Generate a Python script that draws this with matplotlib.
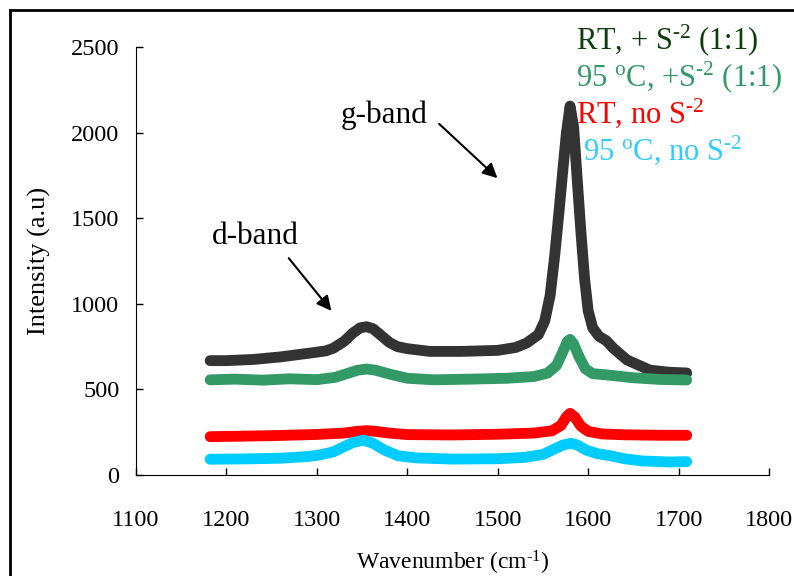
import numpy as np
import matplotlib
matplotlib.use("Agg")
import matplotlib.pyplot as plt
from matplotlib.lines import Line2D

plt.rcParams["font.family"] = ["Liberation Serif", "DejaVu Serif"]
plt.rcParams["mathtext.fontset"] = "custom"
plt.rcParams["mathtext.rm"] = "Liberation Serif"
plt.rcParams["mathtext.it"] = "Liberation Serif:italic"

# RT, + S-2 (1:1)
x_rt_s = [1182, 1200, 1230, 1260, 1292, 1310, 1318, 1330, 1340, 1348, 1355, 1362, 1370, 1380,
          1389, 1400, 1425, 1460, 1500, 1520, 1532, 1545, 1552, 1558, 1563, 1568, 1572, 1576,
          1580, 1584, 1588, 1592, 1596, 1600, 1605, 1612, 1620, 1628, 1643, 1668, 1690, 1709]
y_rt_s = [668, 668, 675, 690, 712, 725, 740, 780, 830, 860, 866, 855, 820, 775,
          750, 738, 722, 722, 728, 745, 771, 820, 900, 1050, 1280, 1550, 1780, 2000,
          2155, 2030, 1720, 1420, 1150, 960, 860, 810, 785, 740, 672, 613, 600, 596]

# 95 C, + S-2 (1:1)
x_95_s = [1182, 1210, 1240, 1270, 1300, 1320, 1335, 1345, 1355, 1365, 1380, 1400, 1430, 1470,
          1510, 1540, 1555, 1565, 1572, 1577, 1580, 1584, 1590, 1597, 1605, 1620, 1650, 1680, 1709]
y_95_s = [556, 560, 554, 562, 557, 570, 595, 612, 619, 612, 590, 565, 556, 560,
          565, 575, 595, 640, 720, 780, 792, 765, 690, 620, 592, 585, 568, 558, 555]

# RT, no S-2
x_rt = [1182, 1220, 1260, 1300, 1330, 1345, 1355, 1365, 1380, 1400, 1450, 1500, 1540, 1560,
        1570, 1576, 1580, 1585, 1592, 1600, 1615, 1640, 1680, 1709]
y_rt = [224, 227, 231, 237, 245, 255, 259, 255, 245, 236, 234, 238, 245, 258,
        290, 340, 360, 340, 285, 255, 240, 235, 232, 232]

# 95 C, no S-2
x_95 = [1182, 1220, 1260, 1290, 1303, 1318, 1330, 1340, 1352, 1362, 1375, 1390, 1410, 1450,
        1500, 1530, 1550, 1562, 1572, 1581, 1588, 1598, 1610, 1625, 1640, 1660, 1690, 1709]
y_95 = [92, 94, 98, 108, 117, 135, 165, 190, 204, 185, 145, 112, 100, 93,
        95, 103, 120, 150, 175, 185, 175, 145, 125, 112, 95, 82, 76, 78]

series = [
    (x_rt_s, y_rt_s, "#333333"),
    (x_95_s, y_95_s, "#339966"),
    (x_rt, y_rt, "#ff0000"),
    (x_95, y_95, "#00ccff"),
]
hy = "\u2010"
labels = [r"RT, + S$^{\mathrm{" + hy + r"2}}$ (1:1)",
          r"95 $^{\mathrm{o}}$C, +S$^{\mathrm{" + hy + r"2}}$ (1:1)",
          r"RT, no S$^{\mathrm{" + hy + r"2}}$",
          r"95 $^{\mathrm{o}}$C, no S$^{\mathrm{" + hy + r"2}}$"]
label_colors = ["#0d3d0d", "#339966", "#ff0000", "#33ccff"]

fig = plt.figure(figsize=(7.94, 5.76), dpi=100)
ax = fig.add_axes([136 / 794, 1 - 475 / 576, (769 - 136) / 794, (475 - 47) / 576])

for xs, ys, c in series:
    ax.plot(xs, ys, color=c, lw=7.8, solid_capstyle="round", solid_joinstyle="round")

ax.set_xlim(1100, 1800)
ax.set_ylim(0, 2500)
ax.set_xticks(np.arange(1100, 1801, 100))
ax.set_yticks(np.arange(0, 2501, 500))
ax.spines["top"].set_visible(False)
ax.spines["right"].set_visible(False)
ax.tick_params(direction="in", length=5, width=1, labelsize=17.5)
ax.tick_params(axis="x", pad=25)
ax.tick_params(axis="y", pad=12)
ax.set_xlabel("Wavenumber (cm$^{\\mathrm{" + hy + "1}}$)", fontsize=17, labelpad=13)
ax.set_ylabel("Intensity (a.u)", fontsize=19, labelpad=14)

ax.annotate("", xy=(1502, 1723), xytext=(1433, 2062),
            arrowprops=dict(arrowstyle="-|>", color="black", lw=1.5, mutation_scale=22))
ax.text(1374, 2103, "g-band", fontsize=22.5, ha="center", va="center")
ax.annotate("", xy=(1318, 946), xytext=(1267, 1279),
            arrowprops=dict(arrowstyle="-|>", color="black", lw=1.5, mutation_scale=22))
ax.text(1232, 1396, "d-band", fontsize=22.5, ha="center", va="center")

lx = [576, 576, 576, 583]
ly = [49, 86, 123, 160]
for t, c, px, py in zip(labels, label_colors, lx, ly):
    fig.text(px / 794, 1 - py / 576, t, color=c, fontsize=22, ha="left", va="baseline")

# outer frame
fig.add_artist(Line2D([10 / 794, 10 / 794], [0, 1 - 10 / 576], color="black", lw=2))
fig.add_artist(Line2D([10 / 794, 1], [1 - 10 / 576, 1 - 10 / 576], color="black", lw=2))

fig.savefig("out.png", dpi=100)
